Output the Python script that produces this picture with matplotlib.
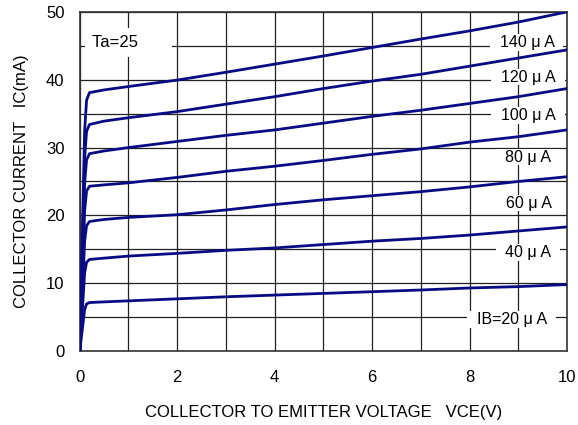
import numpy as np
import matplotlib.pyplot as plt

plt.rcParams['font.family'] = ['Liberation Sans', 'DejaVu Sans']

# VCE sample points (V)
vce = [0, 0.1, 0.14, 0.2, 0.5, 1, 2, 3, 4, 5, 6, 7, 8, 9, 10]

# IC (mA) for each base current
ic_20 = [0, 6.1, 6.95, 7.15, 7.25, 7.4, 7.7, 8.0, 8.25, 8.5, 8.75, 9.0, 9.3, 9.5, 9.8]
ic_40 = [0, 11.5, 13.1, 13.5, 13.7, 14.0, 14.4, 14.85, 15.2, 15.7, 16.2, 16.6, 17.1, 17.7, 18.3]
ic_60 = [0, 16.2, 18.5, 19.1, 19.4, 19.7, 20.1, 20.8, 21.6, 22.3, 22.9, 23.5, 24.2, 25.0, 25.7]
ic_80 = [0, 20.7, 23.6, 24.3, 24.5, 24.8, 25.6, 26.5, 27.25, 28.1, 29.0, 29.8, 30.8, 31.6, 32.6]
ic_100 = [0, 24.8, 28.2, 29.1, 29.5, 30.0, 30.9, 31.8, 32.6, 33.6, 34.6, 35.5, 36.5, 37.5, 38.7]
ic_120 = [0, 28.5, 32.4, 33.4, 33.9, 34.4, 35.3, 36.4, 37.5, 38.7, 39.8, 40.8, 42.0, 43.2, 44.4]
ic_140 = [0, 32.5, 37.0, 38.1, 38.5, 39.0, 39.95, 41.1, 42.3, 43.5, 44.75, 46.0, 47.2, 48.5, 50.0]

curves = [ic_20, ic_40, ic_60, ic_80, ic_100, ic_120, ic_140]
labels = ['IB=20 μ A', '40 μ A', '60 μ A', '80 μ A', '100 μ A', '120 μ A', '140 μ A']
label_x = [8.86, 9.2, 9.2, 9.2, 9.2, 9.2, 9.17]
label_y = [4.65, 14.5, 21.8, 28.6, 34.7, 40.4, 45.5]

fig = plt.figure(figsize=(5.78, 4.25), dpi=100)
ax = fig.add_axes([0.138, 0.174, 0.843, 0.798])

for c in curves:
    ax.plot(vce, c, color='#0a0a85', lw=2.0, zorder=3, solid_joinstyle='round')

for t, x, y in zip(labels, label_x, label_y):
    ax.text(x, y, '  ' + t + '  ', ha='center', va='center', fontsize=11.5, zorder=2,
            bbox=dict(facecolor='white', edgecolor='none', boxstyle='square,pad=0.05'))

ax.text(0.246, 45.5, 'Ta=25      ', ha='left', va='center', fontsize=12, zorder=2,
        bbox=dict(facecolor='white', edgecolor='none', boxstyle='square,pad=0.4'))

ax.set_xlim(0, 10)
ax.set_ylim(0, 50)
ax.set_xticks(np.arange(0, 11, 2))
ax.set_yticks(np.arange(0, 51, 10))
ax.set_xticks(np.arange(0, 11, 1), minor=True)
ax.set_yticks(np.arange(0, 51, 5), minor=True)
ax.grid(which='both', color='#222222', lw=0.9, zorder=1)
ax.set_axisbelow(True)
ax.tick_params(which='both', length=0, labelsize=12)
ax.tick_params(axis='x', pad=14)
ax.tick_params(axis='y', pad=11)
for s in ax.spines.values():
    s.set_color('#333333')
    s.set_linewidth(1.2)

ax.set_xlabel('COLLECTOR TO EMITTER VOLTAGE   VCE(V)', fontsize=12, labelpad=14)
ax.set_ylabel('COLLECTOR CURRENT   IC(mA)', fontsize=12, labelpad=12)

fig.savefig('out.png', dpi=100)
